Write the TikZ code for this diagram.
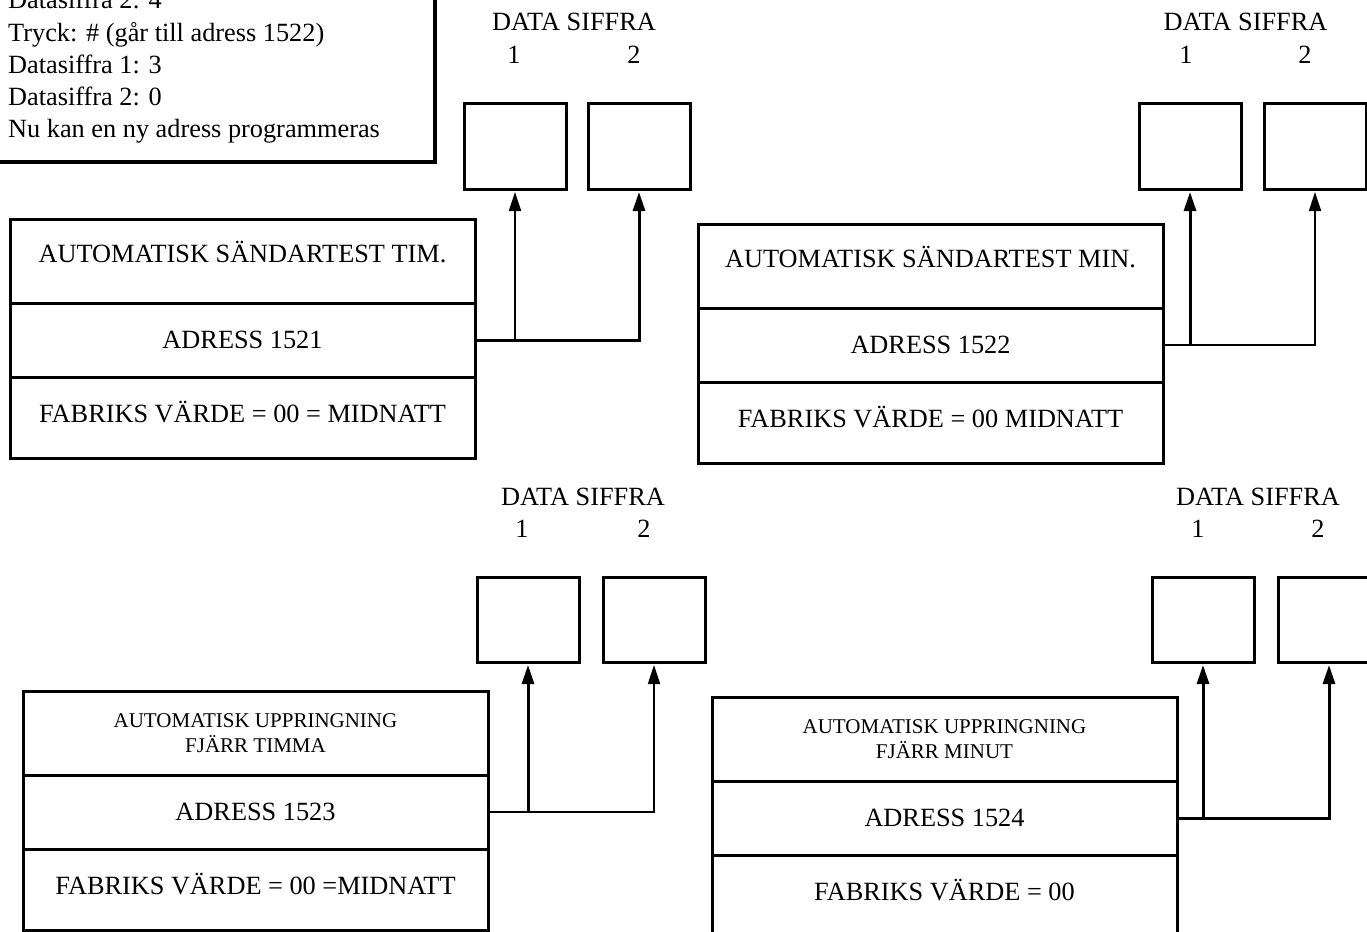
\documentclass[tikz,border=0pt]{standalone}
\usepackage{fontspec}
\setmainfont{Liberation Serif}
\usetikzlibrary{arrows.meta,positioning,calc}
\newcommand{\smalltitle}{\fontsize{21}{25}\selectfont}
\tikzset{
  row/.style={draw,line width=3pt,outer sep=0pt,inner sep=0pt,minimum width=465pt,align=center},
  titlerow/.style={row,minimum height=84pt,text height=22pt,text depth=20pt},
  twolinerow/.style={row,minimum height=84pt,font=\smalltitle},
  adrrow/.style={row,minimum height=74pt},
  valrow/.style={row,minimum height=81pt,text height=22.6pt,text depth=12pt},
  digitbox/.style={draw,line width=3pt,outer sep=0pt,minimum width=102pt,minimum height=85pt},
  digitlbl/.style={inner sep=0pt},
  link/.style={line width=3pt,-{Triangle[length=19pt,width=12pt]},shorten >=3pt},
  thinlink/.style={link,line width=1.8pt},
}

\begin{document}
\begin{tikzpicture}[x=1pt,y=-1pt,font=\fontsize{26.3}{32.3}\selectfont]
\clip (0,0) rectangle (1367,931);
% note, cut off by the page edge
\draw[line width=3.5pt] (-20,-20) rectangle (435,162);
\node[anchor=north west,align=left,inner sep=0pt] (note) at (8,-10)
  {Datasiffra 2: 4\\
   Tryck: \# (går till adress 1522)\\
   Datasiffra 1: 3\\
   Datasiffra 2: 0\\
   Nu kan en ny adress programmeras};

% address 1521
\node[titlerow,anchor=north west] (t1) at (10,219) {AUTOMATISK SÄNDARTEST TIM.};
\node[adrrow,below=0pt of t1] (a1) {ADRESS 1521};
\node[valrow,below=0pt of a1] (v1) {FABRIKS VÄRDE = 00 = MIDNATT};
\node[digitbox,anchor=north west] (d11) at (464,104) {};
\node[digitbox,right=22pt of d11] (d12) {};
\node[digitlbl] (n11) at ($(d11.north)+(-1,-49)$) {1};
\node[digitlbl] (n12) at ($(d12.north)+(-5,-49)$) {2};
\node[digitlbl] (ds1) at ($(n11)!.5!(n12)+(0,-33)$) {DATA SIFFRA};
\draw[link] (a1.east) -| (d12.south);
\draw[thinlink] (a1.east -| d11.south) -- (d11.south);

% address 1522
\node[titlerow,anchor=north west] (t2) at (698,224) {AUTOMATISK SÄNDARTEST MIN.};
\node[adrrow,below=0pt of t2] (a2) {ADRESS 1522};
\node[valrow,below=0pt of a2] (v2) {FABRIKS VÄRDE = 00 MIDNATT};
\node[digitbox,anchor=north west] (d21) at (1139,104) {};
\node[digitbox,right=23pt of d21] (d22) {};
\node[digitlbl] (n21) at ($(d21.north)+(-4,-49)$) {1};
\node[digitlbl] (n22) at ($(d22.north)+(-10,-49)$) {2};
\node[digitlbl] (ds2) at ($(n21)!.5!(n22)+(0,-33)$) {DATA SIFFRA};
\draw[thinlink] (a2.east) -| (d22.south);
\draw[link] (a2.east -| d21.south) -- (d21.south);

% address 1523
\node[twolinerow,anchor=north west] (t3) at (23,691)
  {AUTOMATISK UPPRINGNING\\ FJÄRR TIMMA};
\node[adrrow,below=0pt of t3] (a3) {ADRESS 1523};
\node[valrow,below=0pt of a3] (v3) {FABRIKS VÄRDE = 00 =MIDNATT};
\node[digitbox,anchor=north west] (d31) at (477,577) {};
\node[digitbox,right=24pt of d31] (d32) {};
\node[digitlbl] (n31) at ($(d31.north)+(-6,-48)$) {1};
\node[digitlbl] (n32) at ($(d32.north)+(-10,-48)$) {2};
\node[digitlbl] (ds3) at ($(n31)!.5!(n32)+(0,-32)$) {DATA SIFFRA};
\draw[thinlink] (a3.east) -| (d32.south);
\draw[link] (a3.east -| d31.south) -- (d31.south);

% address 1524
\node[twolinerow,anchor=north west] (t4) at (712,697)
  {AUTOMATISK UPPRINGNING\\ FJÄRR MINUT};
\node[adrrow,below=0pt of t4] (a4) {ADRESS 1524};
\node[valrow,below=0pt of a4] (v4) {FABRIKS VÄRDE = 00};
\node[digitbox,anchor=north west] (d41) at (1152,577) {};
\node[digitbox,right=24pt of d41] (d42) {};
\node[digitlbl] (n41) at ($(d41.north)+(-5,-48)$) {1};
\node[digitlbl] (n42) at ($(d42.north)+(-11,-48)$) {2};
\node[digitlbl] (ds4) at ($(n41)!.5!(n42)+(0,-32)$) {DATA SIFFRA};
\draw[link] (a4.east) -| (d42.south);
\draw[link] (a4.east -| d41.south) -- (d41.south);
\end{tikzpicture}
\end{document}
